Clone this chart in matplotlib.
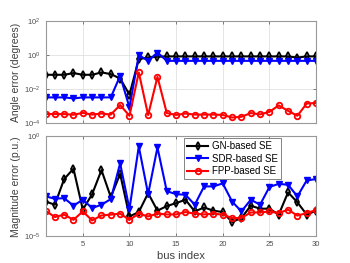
import numpy as np
import matplotlib
matplotlib.use('Agg')
import matplotlib.pyplot as plt

plt.rcParams['font.family'] = ['Liberation Sans', 'DejaVu Sans']

bus = np.arange(1, 31)

# angle error (degrees), log10 values
ang_gn = [-1.16, -1.16, -1.16, -1.06, -1.16, -1.16, -1.02, -1.12, -1.38, -2.33,
          -0.24, -0.14, -0.1, -0.08, -0.08, -0.08, -0.08, -0.08, -0.08, -0.08,
          -0.08, -0.08, -0.08, -0.08, -0.08, -0.08, -0.08, -0.15, -0.08, -0.08]
ang_sdr = [-2.49, -2.49, -2.49, -2.55, -2.49, -2.49, -2.49, -2.49, -1.22, -3.08,
           0.0, -0.34, 0.15, -0.34, -0.34, -0.34, -0.34, -0.34, -0.34, -0.34,
           -0.34, -0.34, -0.34, -0.34, -0.34, -0.34, -0.34, -0.34, -0.34, -0.34]
ang_fpp = [-3.47, -3.47, -3.47, -3.51, -3.4, -3.5, -3.44, -3.5, -2.94, -3.57,
           -1.02, -3.53, -1.28, -3.41, -3.52, -3.44, -3.5, -3.5, -3.5, -3.52,
           -3.67, -3.63, -3.41, -3.49, -3.34, -2.96, -3.28, -3.57, -2.85, -2.82]

# magnitude error (p.u.), log10 values
mag_gn = [-3.27, -3.43, -2.14, -1.62, -3.68, -2.9, -1.69, -3.05, -1.88, -4.02,
          -3.8, -2.85, -3.73, -3.5, -3.35, -3.18, -3.77, -3.57, -3.73, -3.8,
          -4.3, -4.1, -3.48, -3.63, -3.63, -3.93, -2.81, -3.31, -3.93, -3.73]
mag_sdr = [-3.01, -3.13, -3.1, -3.48, -3.18, -3.6, -3.43, -3.15, -1.35, -3.65,
           -0.5, -2.9, -0.55, -2.75, -2.9, -2.93, -3.43, -2.51, -2.51, -2.36,
           -3.27, -3.77, -3.18, -3.43, -2.54, -2.38, -2.43, -3.01, -2.21, -2.14]
mag_fpp = [-3.73, -4.05, -3.93, -4.19, -3.77, -4.22, -3.97, -3.93, -3.88, -4.19,
           -3.88, -4.02, -3.88, -3.92, -3.92, -3.8, -3.88, -3.92, -3.88, -3.93,
           -4.1, -4.1, -3.82, -3.82, -3.77, -3.85, -3.68, -3.98, -3.85, -3.7]

labels = ['GN-based SE', 'SDR-based SE', 'FPP-based SE']

fig = plt.figure(figsize=(3.5, 2.63), dpi=100)
ax1 = fig.add_axes([0.13, 0.532, 0.773, 0.388])
ax2 = fig.add_axes([0.13, 0.103, 0.773, 0.378])


def draw(ax, gn, sdr, fpp):
    ax.plot(bus, 10.0**np.array(gn), '-d', color='k', mfc='none', ms=4, mew=1.3, lw=1.5, label=labels[0])
    ax.plot(bus, 10.0**np.array(sdr), '-v', color='#0000ff', ms=4.5, lw=1.5, label=labels[1])
    ax.plot(bus, 10.0**np.array(fpp), '-o', color='#ff0000', mfc='none', ms=4, mew=1.3, lw=1.5, label=labels[2])
    ax.set_yscale('log')
    ax.set_xlim(1, 30)
    ax.set_xticks([5, 10, 15, 20, 25, 30])
    ax.minorticks_off()
    ax.grid(True, color='0.88', lw=0.6)
    ax.tick_params(direction='in', labelsize=5.5, length=2.5, width=0.5, colors='0.3', top=True, right=True)
    for s in ax.spines.values():
        s.set_color('0.6')
        s.set_linewidth(0.8)


draw(ax1, ang_gn, ang_sdr, ang_fpp)
ax1.set_ylim(1e-4, 1e2)
ax1.set_yticks([1e-4, 1e-2, 1e0, 1e2])
ax1.minorticks_off()
ax1.set_xticklabels([])
ax1.set_ylabel('Angle error (degrees)', fontsize=7.5, color='0.25', labelpad=2)

draw(ax2, mag_gn, mag_sdr, mag_fpp)
ax2.set_ylim(1e-5, 1e0)
ax2.set_yticks([1e-5, 1e0])
ax2.minorticks_off()
ax2.set_ylabel('Magnitude error (p.u.)', fontsize=7.5, color='0.25', labelpad=2)
ax2.set_xlabel('bus index', fontsize=8, color='0.25', labelpad=2)
leg = ax2.legend(loc='upper left', bbox_to_anchor=(0.505, 1.0), borderaxespad=0.2,
                 fontsize=7, frameon=True, fancybox=False, handlelength=2.2,
                 handletextpad=0.4, labelspacing=0.25, borderpad=0.3)
leg.get_frame().set_edgecolor('0.3')
leg.get_frame().set_linewidth(0.6)

fig.savefig('out.png', dpi=100)
